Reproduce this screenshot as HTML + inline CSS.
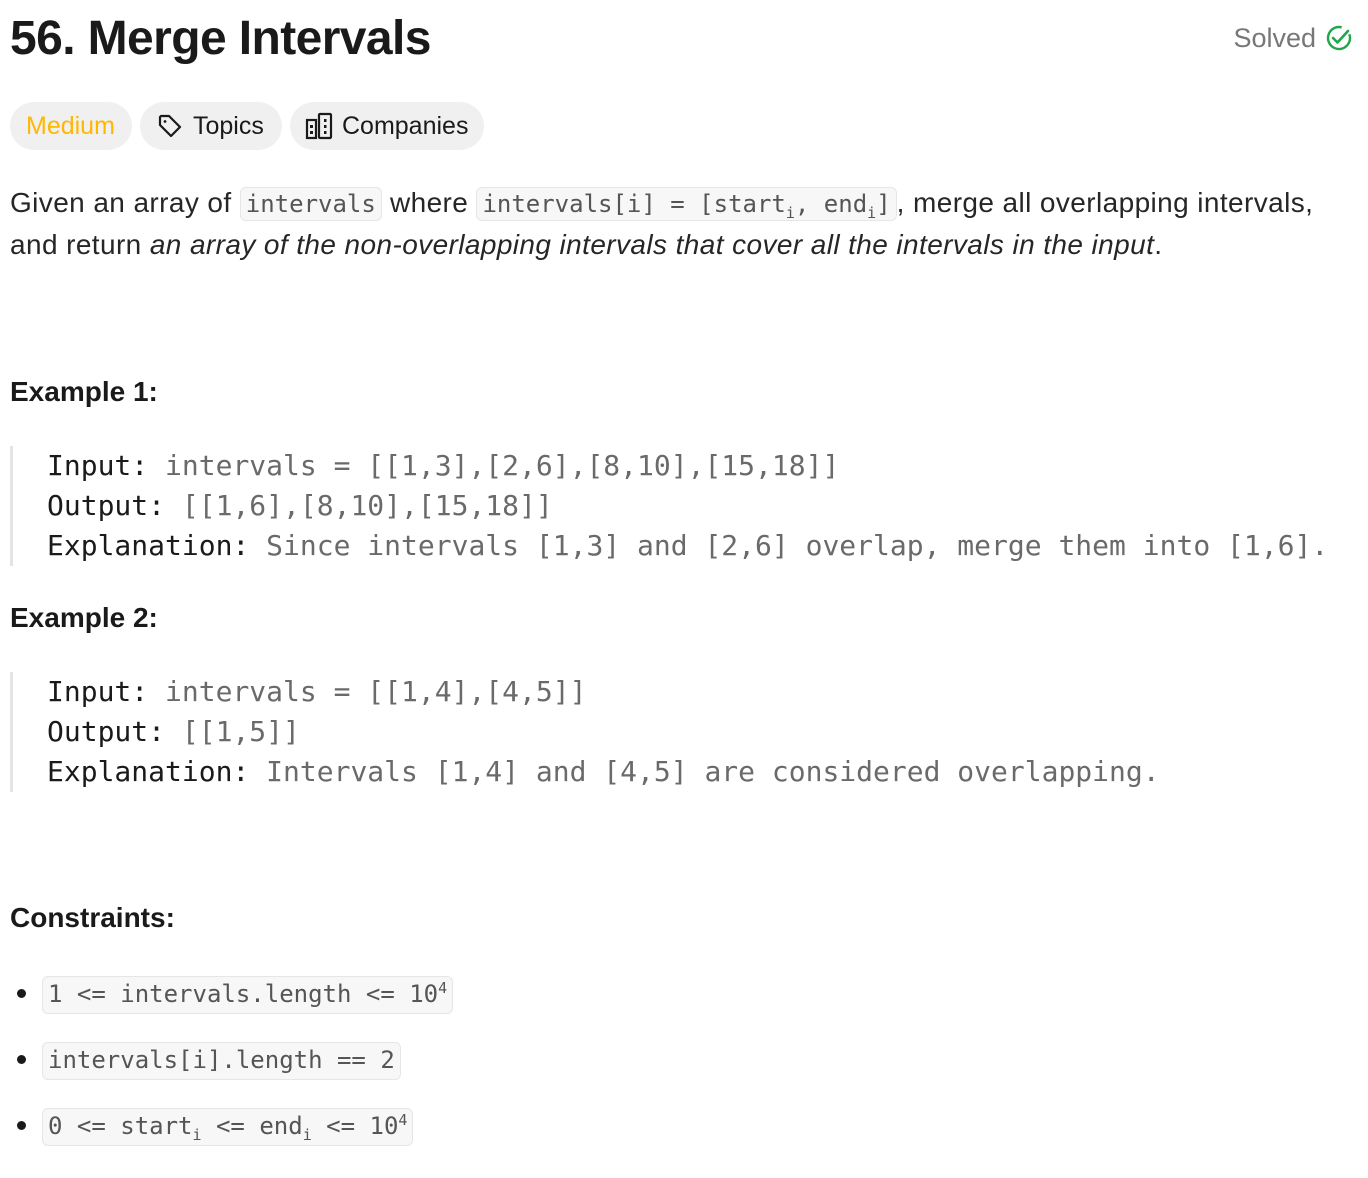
<!DOCTYPE html>
<html><head><meta charset="utf-8"><style>
*{margin:0;padding:0;box-sizing:border-box}
body{width:1368px;height:1178px;background:#fff;position:relative;font-family:"Liberation Sans",sans-serif;color:#262626;overflow:hidden}
.a{position:absolute;white-space:nowrap}
h1{position:absolute;left:10px;top:11px;font-size:48px;font-weight:bold;color:#1a1a1a;letter-spacing:-0.6px}
.pill{position:absolute;top:102px;height:48px;border-radius:24px;background:#f0f0f0;font-size:25px;line-height:48px;padding-left:16px;color:#1a1a1a}
.p{font-size:28px;line-height:42px;color:#262626;letter-spacing:0.4px}
code{font-family:"DejaVu Sans Mono","Liberation Mono",monospace;font-size:24px;color:#555;background:#f7f7f7;border:1.5px solid #e6e6e6;border-radius:6px;padding:2px 5px;letter-spacing:0}
.h{font-size:28px;font-weight:bold;color:#1a1a1a}
.ex{position:absolute;left:10px;border-left:3px solid #e4e4e4;padding-left:34px;font-family:"DejaVu Sans Mono","Liberation Mono",monospace;font-size:28px;line-height:40px;color:#6a6a6a;white-space:pre}
.ex b{color:#1a1a1a;font-weight:normal}
.dot{position:absolute;left:17px;width:9px;height:9px;border-radius:50%;background:#1a1a1a}
sub,sup{font-size:15px;line-height:0}
.c{display:inline-block;height:38px;padding:0 5px;line-height:35px;overflow:hidden}
</style></head><body>
<h1>56. Merge Intervals</h1>
<div class="a" style="right:52px;top:23px;font-size:27px;color:#777">Solved</div>
<svg class="a" style="left:1325px;top:24px" width="28" height="28" viewBox="0 0 28 28"><circle cx="14" cy="14" r="11" fill="none" stroke="#1ea64a" stroke-width="2.4" stroke-dasharray="58 12" transform="rotate(-20 14 14)"/><path d="M8 14l4.5 4.5L23 7" fill="none" stroke="#1ea64a" stroke-width="2.6" stroke-linecap="round" stroke-linejoin="round"/></svg>
<div class="pill" style="left:10px;width:122px;color:#ffb700">Medium</div>
<div class="pill" style="left:140px;width:142px;padding-left:53px">Topics</div>
<svg class="a" style="left:157px;top:113px" width="26" height="26" viewBox="0 0 26 26"><path d="M3 4v8l11 11 9-9L12 3H4z" fill="none" stroke="#1a1a1a" stroke-width="2.2" stroke-linejoin="round"/><circle cx="8" cy="8.5" r="1.4" fill="#1a1a1a"/></svg>
<div class="pill" style="left:290px;width:194px;padding-left:52px">Companies</div>
<svg class="a" style="left:305px;top:112px" width="30" height="28" viewBox="0 0 30 28"><rect x="2" y="8" width="9" height="18" fill="none" stroke="#1a1a1a" stroke-width="2.2"/><rect x="14" y="2" width="12" height="24" rx="1" fill="none" stroke="#1a1a1a" stroke-width="2.2"/><rect x="5" y="13" width="3" height="3" fill="#1a1a1a"/><rect x="5" y="19" width="3" height="3" fill="#1a1a1a"/><rect x="19" y="7" width="2.5" height="3" fill="#1a1a1a"/><rect x="19" y="13" width="2.5" height="3" fill="#1a1a1a"/><rect x="19" y="19" width="2.5" height="3" fill="#1a1a1a"/></svg>
<div class="a p" style="left:10px;top:182px">Given an array of <code>intervals</code> where <code>intervals[i] = [start<sub>i</sub>, end<sub>i</sub>]</code>, merge all overlapping intervals,</div>
<div class="a p" style="left:10px;top:224px">and return <i>an array of the non-overlapping intervals that cover all the intervals in the input</i>.</div>
<div class="a h" style="left:10px;top:376px">Example 1:</div>
<div class="ex" style="top:446px;height:120px"><b>Input:</b> intervals = [[1,3],[2,6],[8,10],[15,18]]
<b>Output:</b> [[1,6],[8,10],[15,18]]
<b>Explanation:</b> Since intervals [1,3] and [2,6] overlap, merge them into [1,6].</div>
<div class="a h" style="left:10px;top:602px">Example 2:</div>
<div class="ex" style="top:672px;height:120px"><b>Input:</b> intervals = [[1,4],[4,5]]
<b>Output:</b> [[1,5]]
<b>Explanation:</b> Intervals [1,4] and [4,5] are considered overlapping.</div>
<div class="a h" style="left:10px;top:902px">Constraints:</div>
<div class="dot" style="top:989px"></div>
<div class="a" style="left:42px;top:976px"><code class="c">1 &lt;= intervals.length &lt;= 10<sup>4</sup></code></div>
<div class="dot" style="top:1055px"></div>
<div class="a" style="left:42px;top:1042px"><code class="c">intervals[i].length == 2</code></div>
<div class="dot" style="top:1121px"></div>
<div class="a" style="left:42px;top:1108px"><code class="c">0 &lt;= start<sub>i</sub> &lt;= end<sub>i</sub> &lt;= 10<sup>4</sup></code></div>
</body></html>
